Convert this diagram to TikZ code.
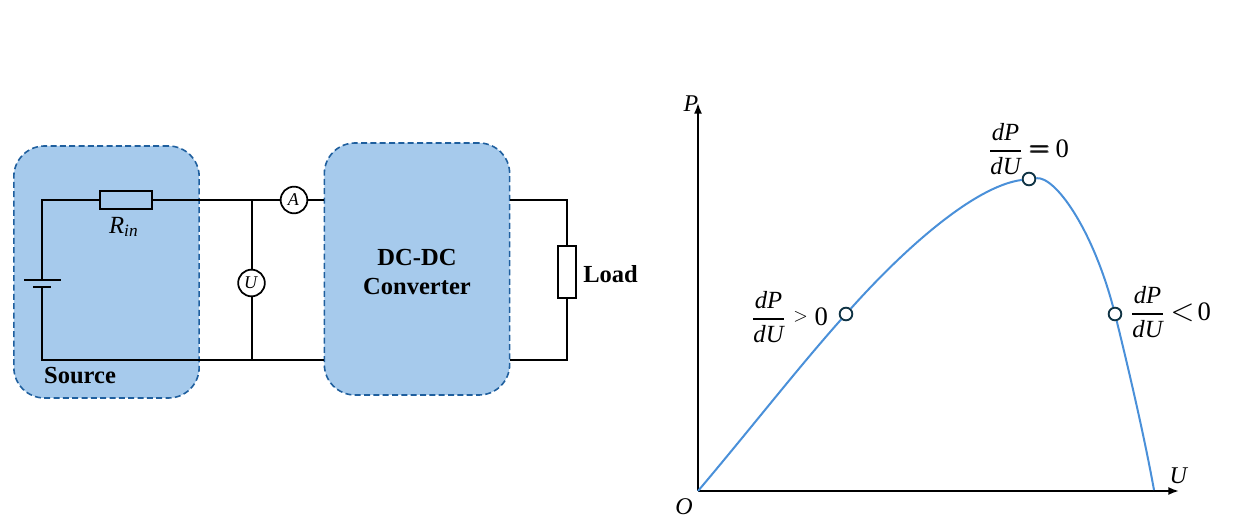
\documentclass[tikz,border=0pt]{standalone}
\usepackage{amsmath}
\usepackage{fontspec}
\setmainfont{Liberation Serif}
\usetikzlibrary{arrows.meta}
\newcommand{\dpdu}{\genfrac{}{}{0.75pt}{0}{\textit{dP}}{\textit{dU}}}
\tikzset{
	blockbox/.style={draw=dashblue, fill=blockblue, line width=1.2pt, dash pattern=on 4.5pt off 2.5pt, rounded corners=23pt, minimum width=139pt, minimum height=189pt},
	wire/.style={line width=1.5pt},
	meter/.style={draw, circle, fill=white, line width=1.3pt, minimum size=20pt, inner sep=0pt},
	mathlabel/.style={scale=1.8, inner sep=0pt},
	fraclabel/.style={scale=1.85, inner sep=0pt},
	zerolabel/.style={scale=2, inner sep=0pt, anchor=west},
	boldlabel/.style={font=\fontsize{18.4}{22}\selectfont\bfseries, inner sep=0pt},
	curvedot/.style={draw=dotdark, circle, fill=white, line width=1.4pt, minimum size=9.5pt, inner sep=0pt},
	curveline/.style={draw=curveblue, line width=1.5pt},
	axis/.style={line width=1.4pt, -{Latex[length=8pt,width=6pt]}},
}
\definecolor{blockblue}{HTML}{A6CAEC}
\definecolor{dashblue}{HTML}{1F5F9E}
\definecolor{curveblue}{HTML}{4A90D9}
\definecolor{dotdark}{HTML}{0F3344}
\begin{document}
\begin{tikzpicture}[x=0.75pt,y=-0.75pt]
	\useasboundingbox (0,0) rectangle (1258,520);
	% circuit side
	\node [blockbox] (source) at (106.5,272) {};
	\node [blockbox] (conv) at (417,269) {};
	\node [boldlabel] (srctext) at (80,376) {Source};
	\node [boldlabel] (convtop) at (417,257) {DC-DC};
	\node [boldlabel] (convbot) at (417,286) {Converter};
	\coordinate (tl) at (42,200);
	\coordinate (bl) at (42,360);
	\coordinate (jt) at (251.5,200);
	\coordinate (jb) at (251.5,360);
	\coordinate (cl1) at (324,200);
	\coordinate (cl2) at (324,360);
	\coordinate (cr1) at (510,200);
	\coordinate (cr2) at (510,360);
	\coordinate (tr) at (566.5,200);
	\coordinate (br) at (566.5,360);
	\coordinate (batl) at (24,280);
	\coordinate (batr) at (61,280);
	\coordinate (batsl) at (33,287);
	\coordinate (batsr) at (51,287);
	\coordinate (battop) at (42,280);
	\coordinate (batbot) at (42,287);
	\node [draw, line width=1.5pt, minimum width=39pt, minimum height=13pt, inner sep=0pt] (rin) at (126,200) {};
	\node [fraclabel] (rinlabel) at (124,227) {$\textit{R}_{\textit{in}}$};
	\node [meter] (amm) at (294,200) {};
	\node [scale=1.35, inner sep=0pt] (ammtext) at (293.5,200) {\textit{A}};
	\node [meter] (vol) at (251.5,283) {};
	\node [scale=1.35, inner sep=0pt] (voltext) at (251,283) {\textit{U}};
	\node [draw, fill=white, line width=1.5pt, minimum width=13.5pt, minimum height=39pt, inner sep=0pt] (load) at (566.5,272) {};
	\node [boldlabel, anchor=west] (loadtext) at (583,274) {Load};
	\draw [wire] (battop) -- (tl) -- (rin);
	\draw [wire] (rin) -- (amm);
	\draw [wire] (amm) -- (cl1);
	\draw [wire] (jt) -- (vol);
	\draw [wire] (vol) -- (jb);
	\draw [wire] (batbot) -- (bl) -- (cl2);
	\draw [wire] (batl) -- (batr);
	\draw [wire] (batsl) -- (batsr);
	\draw [wire] (cr1) -- (tr) -- (load);
	\draw [wire] (load) -- (br) -- (cr2);
	% PU curve
	\coordinate (org) at (698,491);
	\coordinate (ptop) at (698,103);
	\coordinate (uend) at (1179,491);
	\coordinate (uzero) at (1154,490);
	\draw [axis] (org) -- (ptop);
	\draw [axis] (org) -- (uend);
	\node [mathlabel] (plabel) at (691,104) {\textit{P}};
	\node [mathlabel] (olabel) at (684,507) {\textit{O}};
	\node [mathlabel] (ulabel) at (1179,476) {\textit{U}};
	\node [curvedot] (ptl) at (846,314) {};
	\node [curvedot] (ptm) at (1029,179) {};
	\node [curvedot] (ptr) at (1115,314) {};
	\draw [curveline] (org) .. controls (748,432) and (797,369) .. (ptl);
	\draw [curveline] (ptl) .. controls (905,248) and (975,186) .. (ptm);
	\draw [curveline] (ptm) .. controls (1055,176) and (1092,228) .. (ptr);
	\draw [curveline] (ptr) .. controls (1130,375) and (1145,440) .. (uzero);
	\node [fraclabel, anchor=west] (leftlabel) at (750,317) {$\dpdu$};
	\node [scale=1.4, anchor=west, inner sep=0pt] (leftsign) at (793,317) {$>$};
	\node [zerolabel] (leftzero) at (814,317) {0};
	\node [fraclabel, anchor=west] (toplabel) at (987,149) {$\dpdu$};
	\node [scale=2, anchor=west, inner sep=0pt] (topsign) at (1029,151) {$\pmb{=}$};
	\node [zerolabel] (topzero) at (1055,149) {0};
	\node [fraclabel, anchor=west] (rightlabel) at (1129,312) {$\dpdu$};
	\node [scale=2.3, anchor=west, inner sep=0pt] (rightsign) at (1170,313) {$<$};
	\node [zerolabel] (rightzero) at (1197,312) {0};
\end{tikzpicture}
\end{document}
